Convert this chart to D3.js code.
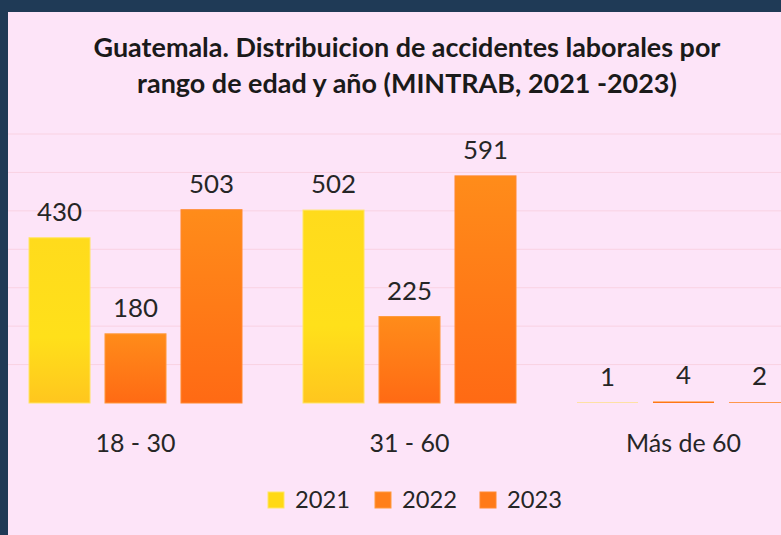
<!DOCTYPE html>
<html>
<head>
<meta charset="utf-8">
<script src="https://cdn.jsdelivr.net/npm/d3@7"></script>
<style>
  body { margin: 0; background: #1f3a56; }
  svg { display: block; }
</style>
</head>
<body>
<svg id="chart"></svg>
<script>
// Data
const categories = ["18 - 30", "31 - 60", "Más de 60"];
const years = ["2021", "2022", "2023"];
const values2021 = [430, 502, 1];
const values2022 = [180, 225, 4];
const values2023 = [503, 591, 2];
const gridTicks = [0, 100, 200, 300, 400, 500, 600, 700];
const titleLines = [
  "Guatemala. Distribuicion de accidentes laborales por",
  "rango de edad y año (MINTRAB, 2021 -2023)"
];

const width = 781, height = 535;
const FONT = "Lato, 'Open Sans', sans-serif";

const svg = d3.select("#chart").attr("width", width).attr("height", height);

// navy frame + pink panel
svg.append("rect").attr("width", width).attr("height", height).attr("fill", "#1f3a56");
svg.append("rect")
  .attr("x", 8).attr("y", 12)
  .attr("width", width - 8).attr("height", height - 12)
  .attr("fill", "#fde4f8");

// measure helper: font size so that text hits a target width
function fitSize(text, weight, target) {
  const t = svg.append("text")
    .attr("font-family", FONT).attr("font-weight", weight)
    .attr("font-size", 100).text(text);
  const w = t.node().getComputedTextLength();
  t.remove();
  return 100 * target / w;
}

const defs = svg.append("defs");
const gradYellow = defs.append("linearGradient").attr("id", "gYellow")
  .attr("x1", 0).attr("y1", 0).attr("x2", 0).attr("y2", 1);
gradYellow.append("stop").attr("offset", "0%").attr("stop-color", "#ffdb1c");
gradYellow.append("stop").attr("offset", "60%").attr("stop-color", "#ffe01a");
gradYellow.append("stop").attr("offset", "100%").attr("stop-color", "#ffc61e");
const gradOrange = defs.append("linearGradient").attr("id", "gOrange")
  .attr("x1", 0).attr("y1", 0).attr("x2", 0).attr("y2", 1);
gradOrange.append("stop").attr("offset", "0%").attr("stop-color", "#ff8c1a");
gradOrange.append("stop").attr("offset", "100%").attr("stop-color", "#ff6a14");

const fills = { "2021": "url(#gYellow)", "2022": "url(#gOrange)", "2023": "url(#gOrange)" };
const strokes = { "2021": "#ffe566", "2022": "#ff9a3c", "2023": "#ff8a30" };
const legendFills = { "2021": "#ffd914", "2022": "#ff7f1a", "2023": "#ff7a18" };

// scales
const x0 = d3.scaleBand().domain(categories).range([-1.5, 820.5])
  .paddingInner(0.2226).paddingOuter(0.1113);
const x1 = d3.scaleBand().domain(years).range([0, x0.bandwidth()])
  .paddingInner(0.197).paddingOuter(0);
const y = d3.scaleLinear().domain([0, 700]).range([403, 134]);

// gridlines
svg.append("g").selectAll("line").data(gridTicks.slice(1)).join("line")
  .attr("x1", 8).attr("x2", width)
  .attr("y1", d => y(d)).attr("y2", d => y(d))
  .attr("stroke", "#f9d2e2").attr("stroke-width", 1);

const series = years.map((yr, i) => ({
  year: yr,
  values: [values2021, values2022, values2023][i]
}));

const rows = [];
series.forEach(s => s.values.forEach((v, j) => rows.push({ year: s.year, cat: categories[j], value: v })));

// bars
svg.append("g").selectAll("rect").data(rows).join("rect")
  .attr("x", d => x0(d.cat) + x1(d.year))
  .attr("y", d => y(d.value))
  .attr("width", x1.bandwidth())
  .attr("height", d => y(0) - y(d.value))
  .attr("fill", d => fills[d.year])
  .attr("stroke", d => strokes[d.year])
  .attr("stroke-width", d => d.value > 10 ? 1 : 0);

// value labels
const valSize = fitSize("430", 400, 45);
svg.append("g").selectAll("text").data(rows).join("text")
  .attr("x", d => x0(d.cat) + x1(d.year) + x1.bandwidth() / 2)
  .attr("y", d => y(d.value) - 17)
  .attr("text-anchor", "middle")
  .attr("font-family", FONT).attr("font-size", valSize)
  .attr("fill", "#262626")
  .text(d => d.value);

// category axis labels
const catSize = fitSize("18 - 30", 400, 80);
svg.append("g").selectAll("text").data(categories).join("text")
  .attr("x", d => x0(d) + x0.bandwidth() / 2)
  .attr("y", 452)
  .attr("text-anchor", "middle")
  .attr("font-family", FONT).attr("font-size", catSize)
  .attr("fill", "#262626")
  .text(d => d);

// title
const titleSize = fitSize(titleLines[0], 700, 627);
svg.append("g").selectAll("text").data(titleLines).join("text")
  .attr("x", 407)
  .attr("y", (d, i) => 57 + i * 36)
  .attr("text-anchor", "middle")
  .attr("font-family", FONT).attr("font-weight", 700)
  .attr("font-size", titleSize)
  .attr("fill", "#1a1a1a")
  .text(d => d);

// legend
const legSize = fitSize("2021", 400, 55);
const legendX = [268, 375, 480];
const legend = svg.append("g").selectAll("g").data(years).join("g")
  .attr("transform", (d, i) => `translate(${legendX[i]},492)`);
legend.append("rect")
  .attr("width", 16).attr("height", 16)
  .attr("fill", d => legendFills[d])
  .attr("stroke", d => strokes[d]).attr("stroke-width", 1);
legend.append("text")
  .attr("x", 27).attr("y", 16)
  .attr("font-family", FONT).attr("font-size", legSize)
  .attr("fill", "#262626")
  .text(d => d);
</script>
</body>
</html>
